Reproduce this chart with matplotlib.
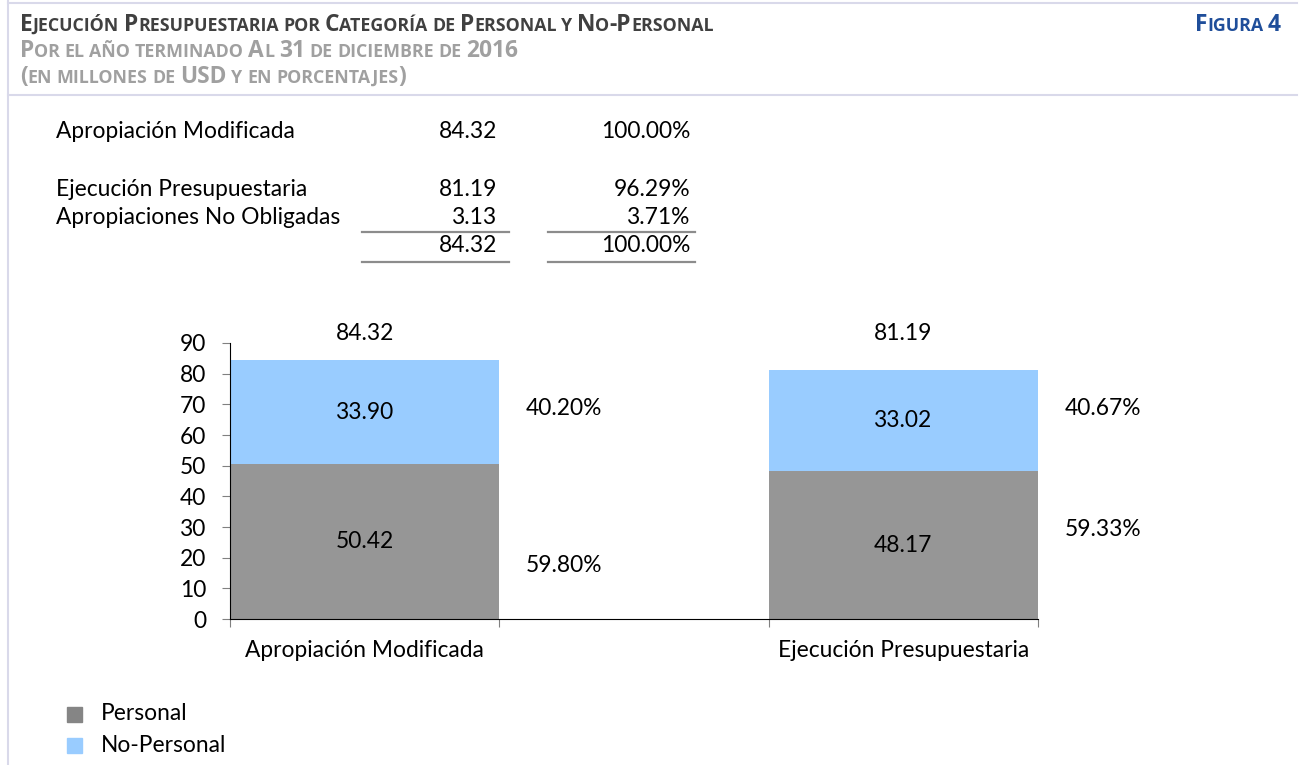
import matplotlib
matplotlib.use("Agg")
import matplotlib.pyplot as plt
from matplotlib.lines import Line2D
from matplotlib.patches import Rectangle

# ---- data ----
categories = ["Apropiación Modificada", "Ejecución Presupuestaria"]
personal = [50.42, 48.17]
no_personal = [33.90, 33.02]
series_names = ["Personal", "No-Personal"]

apropiacion = 84.32
ejecucion = 81.19
no_obligadas = 3.13
table_labels = ["Apropiación Modificada", "Ejecución Presupuestaria", "Apropiaciones No Obligadas"]

title1 = "Ejecución Presupuestaria por Categoría de Personal y No-Personal"
title2 = "Por el año terminado Al 31 de diciembre de 2016"
title3 = "(en millones de USD y en porcentajes)"
fig_label = "Figura 4"

# label heights for the percentage series (placed as in the original)
pct_y = [[17.3, 68.8], [29.3, 68.8]]

FONT = "Lato"
TFONT = "Open Sans"
plt.rcParams["font.family"] = [FONT, "DejaVu Sans"]
FS = 16.4
TS = 16.4
GRAY = "#969696"
BLUE = "#99ccff"
W, H = 1299, 765

fig = plt.figure(figsize=(W / 100, H / 100), dpi=100)
renderer = fig.canvas.get_renderer()


def fx(x):
    return x / W


def fy(y):
    return 1 - y / H


def txt(x, y, s, **kw):
    return fig.text(fx(x), fy(y), s, **kw)


def smallcaps(x, y, s, size, color, align="left"):
    # draw text in small caps, baseline at pixel y
    small = size * 0.78
    parts = []
    run, low = "", None
    for ch in s:
        if ch == " ":
            if run:
                parts.append((run, low))
            parts.append((" ", None))
            run, low = "", None
            continue
        is_low = ch.islower()
        if low is None or is_low == low:
            run += ch
            low = is_low
        else:
            parts.append((run, low))
            run, low = ch, is_low
    if run:
        parts.append((run, low))

    def width(t, sz):
        a = fig.text(0, 0, t, fontsize=sz, fontweight="bold", family=TFONT)
        w = a.get_window_extent(renderer).width
        a.remove()
        return w

    sp = width("x x", small) - width("xx", small)
    widths = []
    for p, l in parts:
        widths.append(sp if p == " " else width(p.upper(), small if l else size))
    cx = x - sum(widths) if align == "right" else x
    for (p, l), w in zip(parts, widths):
        if p != " ":
            txt(cx, y, p.upper(), fontsize=small if l else size, fontweight="bold",
                color=color, va="baseline", family=TFONT)
        cx += w


# frame lines
frame_c = "#d9d9ea"
fig.add_artist(Line2D([fx(8), fx(8)], [0, 1], color=frame_c, lw=1.5))
fig.add_artist(Line2D([fx(8), fx(1297)], [fy(3), fy(3)], color=frame_c, lw=1.5))
fig.add_artist(Line2D([fx(8), fx(1297)], [fy(95), fy(95)], color=frame_c, lw=1.5))

# titles
smallcaps(20, 31, title1, TS, "#404040")
smallcaps(20, 57, title2, TS, "#a0a0a0")
smallcaps(20, 83, title3, TS, "#a0a0a0")
smallcaps(1281, 31, fig_label, TS, "#1f4e9a", align="right")

# summary table
rows = [
    (table_labels[0], apropiacion, apropiacion / apropiacion, 131),
    (table_labels[1], ejecucion, ejecucion / apropiacion, 189),
    (table_labels[2], no_obligadas, no_obligadas / apropiacion, 218),
    ("", ejecucion + no_obligadas, (ejecucion + no_obligadas) / apropiacion, 246),
]
for lab, v, p, y in rows:
    txt(56, y, lab, fontsize=FS, va="center")
    txt(497, y, f"{v:.2f}", fontsize=FS, va="center", ha="right")
    txt(690, y, f"{p * 100:.2f}%", fontsize=FS, va="center", ha="right")
for y in (232, 262):
    fig.add_artist(Line2D([fx(362), fx(509)], [fy(y), fy(y)], color="#8c8c8c", lw=1.6))
    fig.add_artist(Line2D([fx(548), fx(695)], [fy(y), fy(y)], color="#8c8c8c", lw=1.6))

# chart
ax = fig.add_axes([fx(230), fy(619), (1038 - 230) / W, (619 - 343) / H])
xpos = [0, 2]
totals = [a + b for a, b in zip(personal, no_personal)]
ax.bar(xpos, personal, width=1.0, color=GRAY, label=series_names[0])
ax.bar(xpos, no_personal, width=1.0, bottom=personal, color=BLUE, label=series_names[1])

for i, x in enumerate(xpos):
    ax.text(x, personal[i] / 2, f"{personal[i]:.2f}", ha="center", va="center", fontsize=FS)
    ax.text(x, personal[i] + no_personal[i] / 2, f"{no_personal[i]:.2f}",
            ha="center", va="center", fontsize=FS)
    ax.text(x, 93, f"{totals[i]:.2f}", ha="center", va="center", fontsize=FS, clip_on=False)
    ax.text(x + 0.74, pct_y[i][0], f"{personal[i] / totals[i] * 100:.2f}%",
            ha="center", va="center", fontsize=FS, clip_on=False)
    ax.text(x + 0.74, pct_y[i][1], f"{no_personal[i] / totals[i] * 100:.2f}%",
            ha="center", va="center", fontsize=FS, clip_on=False)

ax.set_xlim(-0.5, 2.5)
ax.set_ylim(0, 90)
ax.set_yticks(range(0, 91, 10))
ax.set_xticks([-0.5, 0.5, 1.5, 2.5])
ax.set_xticklabels([])
ax.set_xticks(xpos, minor=True)
ax.set_xticklabels(categories, minor=True)
ax.tick_params(axis="x", which="minor", length=0, pad=15, labelsize=FS)
ax.tick_params(axis="x", which="major", length=6, color="#808080")
ax.tick_params(axis="y", length=6, color="#808080", pad=11, labelsize=FS)
for s in ("top", "right"):
    ax.spines[s].set_visible(False)
ax.spines["left"].set_color("black")
ax.spines["bottom"].set_color("black")

# legend
for name, c, y in zip(series_names, ["#858585", BLUE], [714, 745]):
    fig.add_artist(Rectangle((fx(67), fy(y + 8)), 15 / W, 15 / H, color=c))
    txt(101, y, name, fontsize=FS, va="center")

fig.savefig("out.png", dpi=100)
